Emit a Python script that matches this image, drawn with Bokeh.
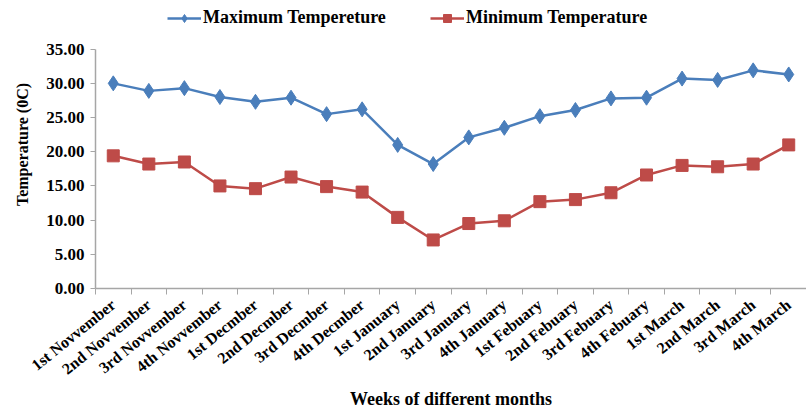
import math
from bokeh.plotting import figure
from bokeh.models import (ColumnDataSource, FixedTicker, NumeralTickFormatter,
                          Legend, LegendItem, Range1d)
from bokeh.embed import file_html
from bokeh.resources import INLINE

weeks = ["1st Novvember", "2nd Novvember", "3rd Novvember", "4th Novvember",
         "1st Decmber", "2nd Decmber", "3rd Decmber", "4th Decmber",
         "1st January", "2nd January", "3rd January", "4th January",
         "1st Febuary", "2nd Febuary", "3rd Febuary", "4th Febuary",
         "1st March", "2nd March", "3rd March", "4th March"]
max_temp = [30.0, 28.9, 29.3, 28.0, 27.3, 27.9, 25.5, 26.2, 21.0, 18.2,
            22.1, 23.5, 25.2, 26.1, 27.8, 27.9, 30.7, 30.5, 31.9, 31.3]
min_temp = [19.4, 18.2, 18.5, 15.0, 14.6, 16.3, 14.9, 14.1, 10.4, 7.1,
            9.5, 9.9, 12.7, 13.0, 14.0, 16.6, 18.0, 17.8, 18.2, 21.0]
y_ticks = [0, 5, 10, 15, 20, 25, 30, 35]

FONT = "Liberation Serif"
BLUE = "#4A7EBB"
RED = "#BE4B48"
AXIS = "#A6A6A6"

H = 412
BOTTOM = 122
FRAME_H = H - BOTTOM          # frame spans the top of the canvas
TOP_GAP = 49                  # pixels above the 35.00 tick (legend space)
y_end = 35 * FRAME_H / (FRAME_H - TOP_GAP)

xs = [i + 0.5 for i in range(len(weeks))]
src = ColumnDataSource(dict(x=xs, mx=max_temp, mn=min_temp))

p = figure(width=806, height=H, output_backend="svg", toolbar_location=None,
           x_range=Range1d(0, len(weeks)), y_range=Range1d(0, y_end),
           min_border_left=95, min_border_right=0, min_border_top=0,
           min_border_bottom=BOTTOM)
p.outline_line_color = None
p.grid.visible = False

r1 = p.line("x", "mx", source=src, line_color=BLUE, line_width=2.5)
s1 = p.scatter("x", "mx", source=src, marker="diamond", size=15,
               fill_color=BLUE, line_color=BLUE)
r2 = p.line("x", "mn", source=src, line_color=RED, line_width=2.5)
s2 = p.scatter("x", "mn", source=src, marker="square", size=12,
               fill_color=RED, line_color=RED)

# x axis: labels at centres, ticks at boundaries
xt = FixedTicker(ticks=xs, minor_ticks=list(range(len(weeks) + 1)))
p.xaxis.ticker = xt
p.xaxis.major_label_overrides = {x: w for x, w in zip(xs, weeks)}
p.xaxis.major_tick_line_color = None
p.xaxis.minor_tick_line_color = AXIS
p.xaxis.minor_tick_out = 6
p.xaxis.minor_tick_in = 0
p.xaxis.major_label_orientation = 0.68
p.xaxis.major_label_standoff = 8
p.xaxis.axis_line_color = AXIS
p.xaxis.axis_line_width = 1.5
p.xaxis.major_label_text_font = FONT
p.xaxis.major_label_text_font_style = "bold"
p.xaxis.major_label_text_font_size = "16px"
p.xaxis.major_label_text_color = "black"
p.xaxis.axis_label = "Weeks of different months"
p.xaxis.axis_label_text_font = FONT
p.xaxis.axis_label_text_font_style = "bold"
p.xaxis.axis_label_text_font_size = "18px"
p.xaxis.axis_label_text_color = "black"
p.xaxis.axis_label_standoff = 2

p.yaxis.ticker = FixedTicker(ticks=y_ticks)
p.yaxis.bounds = (0, 35)
p.yaxis.formatter = NumeralTickFormatter(format="0.00")
p.yaxis.axis_line_color = AXIS
p.yaxis.axis_line_width = 1.5
p.yaxis.major_tick_line_color = AXIS
p.yaxis.major_tick_out = 5
p.yaxis.major_tick_in = 0
p.yaxis.minor_tick_line_color = None
p.yaxis.major_label_text_font = FONT
p.yaxis.major_label_text_font_style = "bold"
p.yaxis.major_label_text_font_size = "17px"
p.yaxis.major_label_text_color = "black"
p.yaxis.major_label_standoff = 6
p.yaxis.axis_label = "Temperature (0C)"
p.yaxis.axis_label_text_font = FONT
p.yaxis.axis_label_text_font_style = "bold"
p.yaxis.axis_label_text_font_size = "16px"
p.yaxis.axis_label_text_color = "black"
p.yaxis.axis_label_standoff = 12

def make_legend(items, x, y):
    lg = Legend(items=items, location=(x, y), orientation="horizontal",
                background_fill_alpha=0, border_line_color=None,
                padding=0, margin=0, spacing=0,
                glyph_width=34, glyph_height=20, label_height=20,
                label_standoff=2, label_text_font=FONT,
                label_text_font_style="bold", label_text_font_size="18px",
                label_text_color="black")
    p.add_layout(lg, "center")

LEG_Y = FRAME_H - 30
make_legend([LegendItem(label="Maximum Tempereture", renderers=[r1, s1])], 72, LEG_Y)
make_legend([LegendItem(label="Minimum Temperature", renderers=[r2, s2])], 335, LEG_Y)

open("out.html", "w").write(file_html(p, INLINE))
